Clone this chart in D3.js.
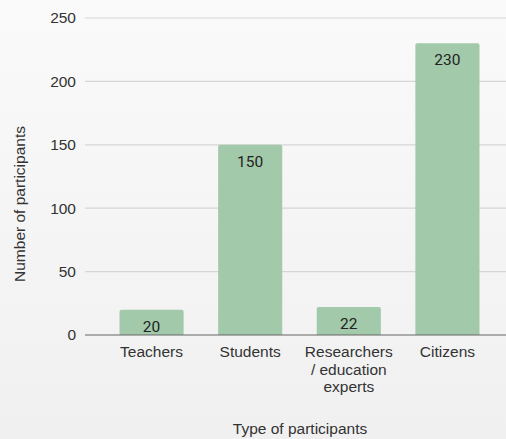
<!DOCTYPE html>
<html><head><meta charset="utf-8">
<script src="https://cdn.jsdelivr.net/npm/d3@7"></script>
<style>html,body{margin:0;padding:0;overflow:hidden;}svg{display:block;}</style>
</head><body>
<svg id="c" width="506" height="439"></svg>
<script>
const categories = ["Teachers", "Students", "Researchers\n/ education\nexperts", "Citizens"];
const values = [20, 150, 22, 230];
const yTicks = [0, 50, 100, 150, 200, 250];
const xTitle = "Type of participants";
const yTitle = "Number of participants";

const svg = d3.select("#c");
const W = 506, H = 439;
const defs = svg.append("defs");
const grad = defs.append("linearGradient").attr("id","bg").attr("x1",0).attr("y1",0).attr("x2",0).attr("y2",1);
grad.append("stop").attr("offset","0%").attr("stop-color","#fafafa");
grad.append("stop").attr("offset","100%").attr("stop-color","#f0f0f0");
svg.append("rect").attr("width",W).attr("height",H).attr("fill","url(#bg)");

const x = d3.scaleBand().domain(categories).range([85, 514]).paddingInner(0.35).paddingOuter(0.35);
const y = d3.scaleLinear().domain([0, 250]).range([335, 18]);

const font = "'Liberation Sans', Arial, sans-serif";
const fs = 15.5;

// gridlines
svg.append("g").selectAll("line").data(yTicks.filter(d => d > 0)).join("line")
  .attr("x1", 85).attr("x2", W).attr("y1", d => y(d)).attr("y2", d => y(d))
  .attr("stroke", "#d6d6d6").attr("stroke-width", 1.2);

// y tick labels
svg.append("g").selectAll("text").data(yTicks).join("text")
  .attr("x", 76).attr("y", d => y(d)).attr("dy", "0.35em")
  .attr("text-anchor", "end").attr("font-family", font).attr("font-size", fs)
  .attr("fill", "#333").text(d => d);

// bars with rounded top corners
const r = 2;
svg.append("g").selectAll("path").data(values).join("path")
  .attr("d", (d, i) => {
    const x0 = x(categories[i]), w = x.bandwidth(), y0 = y(d), yb = y(0);
    return `M${x0},${yb}V${y0 + r}Q${x0},${y0} ${x0 + r},${y0}H${x0 + w - r}Q${x0 + w},${y0} ${x0 + w},${y0 + r}V${yb}Z`;
  })
  .attr("fill", "#a2c9a9");

// value labels
svg.append("g").selectAll("text").data(values).join("text")
  .attr("x", (d, i) => x(categories[i]) + x.bandwidth() / 2)
  .attr("y", d => y(d) + 22)
  .attr("text-anchor", "middle").attr("font-family", "Roboto, sans-serif").attr("font-size", fs)
  .attr("fill", "#222").text(d => d);

// baseline
svg.append("line").attr("x1", 85).attr("x2", W).attr("y1", y(0)).attr("y2", y(0))
  .attr("stroke", "#666").attr("stroke-width", 1.2);

// category labels
const cl = svg.append("g").selectAll("text").data(categories).join("text")
  .attr("text-anchor", "middle").attr("font-family", font).attr("font-size", fs).attr("fill", "#333")
  .attr("transform", d => `translate(${x(d) + x.bandwidth() / 2},357)`);
cl.each(function(d) {
  const t = d3.select(this);
  d.split("\n").forEach((line, i) => {
    t.append("tspan").attr("x", 0).attr("y", i * 17.6).text(line);
  });
});

// axis titles
svg.append("text").attr("x", 300).attr("y", 434).attr("text-anchor", "middle")
  .attr("font-family", font).attr("font-size", fs).attr("fill", "#333").text(xTitle);
svg.append("text").attr("transform", "translate(24.5,204) rotate(-90)").attr("text-anchor", "middle")
  .attr("font-family", font).attr("font-size", fs).attr("fill", "#333").text(yTitle);
</script>
</body></html>
